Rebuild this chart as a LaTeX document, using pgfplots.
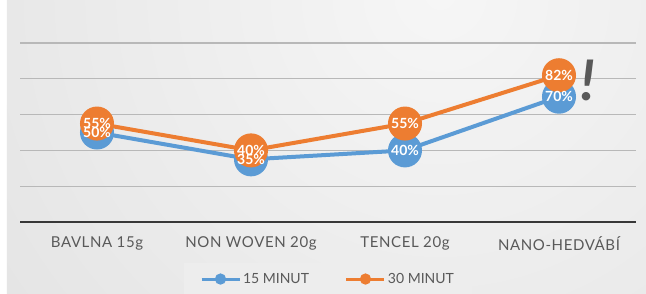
\documentclass[border=0pt]{standalone}
\usepackage{pgfplots}
\pgfplotsset{compat=1.18}
\usetikzlibrary{calc,backgrounds}
\usepackage{fontspec}
\setmainfont{Lato}
\newfontfamily\catfont[LetterSpace=4]{Lato}
\definecolor{cblue}{HTML}{5B9BD5}
\definecolor{corange}{HTML}{ED7D31}
\definecolor{ctext}{HTML}{595959}
\definecolor{bgin}{HTML}{F6F6F6}
\definecolor{bgout}{HTML}{D4D4D4}
\definecolor{legfill}{HTML}{EDEDED}
\definecolor{gridc}{HTML}{B8B8B8}
\pgfplotstableread{
x y
0 50
1 35
2 40
3 70
}\blue
\pgfplotstableread{
x y
0 55
1 40
2 55
3 82
}\orange
\begin{document}
\begin{tikzpicture}
\begin{axis}[
  scale only axis, width=616pt, height=214.8pt,
  xmin=-0.5, xmax=3.5, ymin=0, ymax=120,
  clip=false,
  axis x line*=bottom, axis y line*=left,
  x axis line style={draw=black!78, line width=1.6pt, -},
  y axis line style={draw=none},
  xtick={0,1,2,3},
  xticklabels={BAVLNA 15g, NON WOVEN 20g, TENCEL 20g, NANO-HEDVÁBÍ},
  ytick={20,40,60,80,100}, yticklabels={},
  major tick length=0pt,
  ymajorgrids, grid style={draw=gridc, line width=1.3pt},
  xticklabel style={font=\catfont\fontsize{15}{16}\selectfont, text=ctext, yshift=-11pt},
  /pgf/number format/assume math mode=true,
  every node near coord/.style={anchor=center, text=white, font=\bfseries\fontsize{14}{14}\selectfont, inner sep=0pt},
  legend style={at={(0.5,-0.191)}, anchor=north, fill=legfill, draw=none,
    font=\fontsize{14}{16}\selectfont, text=ctext,
    inner xsep=16pt, inner ysep=8pt,
    /tikz/every even column/.append style={column sep=34pt}},
  legend columns=2,
  legend cell align=left,
]
\addplot[cblue, line width=4pt, mark=*, mark size=15pt, mark options={draw=none, fill=cblue},
  legend image code/.code={\draw[cblue, line width=3pt] (0pt,0pt) -- (38pt,0pt); \fill[cblue] (19pt,0pt) circle (3.5pt);}]
  table {\blue};
\addlegendentry{15 MINUT}
\addplot[corange, line width=4pt, mark=*, mark size=15pt, mark options={draw=none, fill=corange},
  legend image code/.code={\draw[corange, line width=3pt] (0pt,0pt) -- (38pt,0pt); \fill[corange] (19pt,0pt) circle (3.5pt);}]
  table {\orange};
\addlegendentry{30 MINUT}
\addplot[draw=none, mark=none, forget plot,
  nodes near coords={\pgfmathprintnumber{\pgfplotspointmeta}\%}] table {\blue};
\addplot[draw=none, mark=none, forget plot,
  nodes near coords={\pgfmathprintnumber{\pgfplotspointmeta}\%}] table {\orange};
\node[text=ctext, font=\itshape\bfseries\fontsize{56}{58}\selectfont] at (axis cs:3.19,79) {!};
\coordinate (O) at (rel axis cs:0,0);
\end{axis}
\begin{scope}[on background layer]
\fill[white] ($(O)+(-20pt,-72pt)$) rectangle ($(O)+(626pt,222pt)$);
\begin{scope}
\clip ($(O)+(-13pt,-72pt)$) rectangle ($(O)+(626pt,222pt)$);
\shade[inner color=bgin, outer color=bgout] ($(O)+(420pt,228pt)$) circle (1050pt);
\end{scope}
\end{scope}
\pgfresetboundingbox
\path[use as bounding box] ($(O)+(-20pt,-72pt)$) rectangle ($(O)+(626pt,222pt)$);
\end{tikzpicture}
\end{document}
